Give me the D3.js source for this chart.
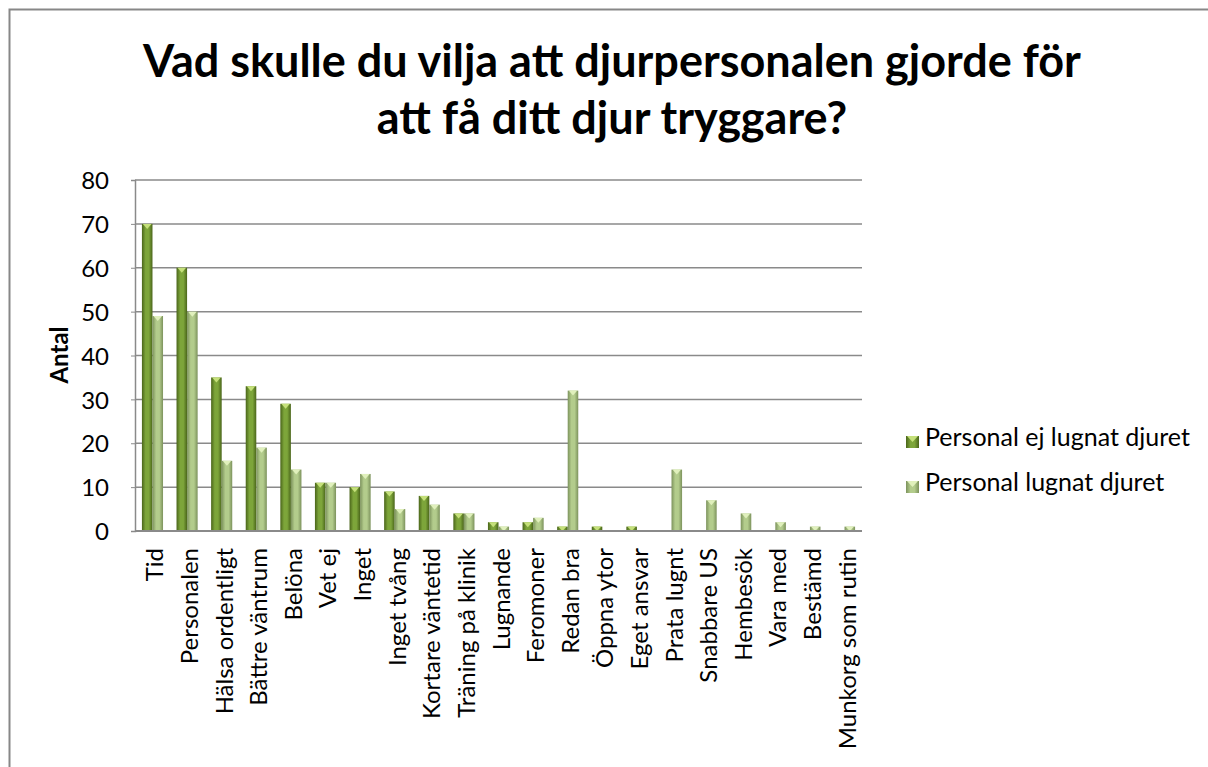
<!DOCTYPE html>
<html><head><meta charset="utf-8">
<script src="https://cdn.jsdelivr.net/npm/d3@7"></script>
<style>body{margin:0;background:#fff}svg{display:block}</style>
</head><body>
<svg id="c" width="1208" height="767"></svg>
<script>
const categories = ["Tid","Personalen","Hälsa ordentligt","Bättre väntrum","Belöna","Vet ej","Inget","Inget tvång","Kortare väntetid","Träning på klinik","Lugnande","Feromoner","Redan bra","Öppna ytor","Eget ansvar","Prata lugnt","Snabbare US","Hembesök","Vara med","Bestämd","Munkorg som rutin"];
const seriesNames = ["Personal ej lugnat djuret","Personal lugnat djuret"];
const ejLugnat = [70,60,35,33,29,11,10,9,8,4,2,2,1,1,1,0,0,0,0,0,0];
const lugnat   = [49,50,16,19,14,11,13,5,6,4,1,3,32,0,0,14,7,4,2,1,1];
const yTicks = [0,10,20,30,40,50,60,70,80];
const titleLines = ["Vad skulle du vilja att djurpersonalen gjorde för","att få ditt djur tryggare?"];

const svg = d3.select("#c");
const font = "Lato, 'Open Sans', sans-serif";
const defs = svg.append("defs");
function grad(id, edge, mid){
  const g = defs.append("linearGradient").attr("id",id).attr("x1","0").attr("x2","1").attr("y1","0").attr("y2","0");
  g.append("stop").attr("offset","0%").attr("stop-color",edge);
  g.append("stop").attr("offset","35%").attr("stop-color",mid);
  g.append("stop").attr("offset","65%").attr("stop-color",mid);
  g.append("stop").attr("offset","100%").attr("stop-color",edge);
}
grad("g0","#4a651a","#7da53a");
grad("g1","#7c925c","#b3cc8c");
const capColor = ["#c5e07a","#e0f0bc"];

// frame
svg.append("path").attr("d","M9.5,767 L9.5,9.5 L1208,9.5").attr("fill","none").attr("stroke","#878787").attr("stroke-width",2);

// title
svg.append("text").attr("x",612).attr("y",77).attr("text-anchor","middle")
  .style("font-family",font).style("font-weight","bold").style("font-size","45px").text(titleLines[0]);
svg.append("text").attr("x",612).attr("y",134).attr("text-anchor","middle")
  .style("font-family",font).style("font-weight","bold").style("font-size","45px").text(titleLines[1]);

const m = {l:135, r:862, t:180, b:531};
const x = d3.scaleBand().domain(categories).range([m.l,m.r]).paddingInner(0.39).paddingOuter(0.2);
const y = d3.scaleLinear().domain([0,80]).range([m.b,m.t]);
const xs = d3.scaleBand().domain([0,1]).range([0,x.bandwidth()]);

// gridlines
svg.append("g").selectAll("line").data(yTicks.slice(1)).join("line")
  .attr("x1",m.l).attr("x2",m.r).attr("y1",d=>y(d)).attr("y2",d=>y(d))
  .attr("stroke","#8a8a8a").attr("stroke-width",1.5);

// y axis
const ya = svg.append("g").attr("transform",`translate(${m.l},0)`)
  .call(d3.axisLeft(y).tickValues(yTicks).tickSize(4).tickPadding(22));
ya.select(".domain").attr("stroke","#8a8a8a").attr("stroke-width",1.5);
ya.selectAll(".tick line").attr("stroke","#8a8a8a");
ya.selectAll("text").style("font-family",font).style("font-size","24px").attr("fill","#000").attr("dy","0.36em");

svg.append("text").attr("transform","translate(68,355) rotate(-90)").attr("text-anchor","middle")
  .style("font-family",font).style("font-weight","bold").style("font-size","24px").text("Antal");

// bars
const data = [ejLugnat, lugnat];
data.forEach((vals, si) => {
  const g = svg.append("g");
  const bw = xs.bandwidth();
  const items = categories.map((c,i)=>({c, v: vals[i]})).filter(d=>d.v>0);
  g.selectAll("rect").data(items).join("rect")
    .attr("x", d=>x(d.c)+xs(si)).attr("width", bw)
    .attr("y", d=>y(d.v)).attr("height", d=>y(0)-y(d.v))
    .attr("fill", `url(#g${si})`);
  g.selectAll("path").data(items).join("path")
    .attr("d", d=>{
      const x0 = x(d.c)+xs(si), yt = y(d.v), h = Math.min(5, (y(0)-yt));
      return `M${x0+1},${yt} L${x0+bw-1},${yt} L${x0+bw/2},${yt+h} Z`;
    })
    .attr("fill", capColor[si]);
});

// x axis line
svg.append("line").attr("x1",m.l).attr("x2",m.r).attr("y1",m.b).attr("y2",m.b)
  .attr("stroke","#8a8a8a").attr("stroke-width",2);

// x labels
svg.append("g").selectAll("text").data(categories).join("text")
  .attr("transform", d=>`translate(${x(d)+x.bandwidth()/2+11},548) rotate(-90)`)
  .attr("text-anchor","end")
  .style("font-family",font).style("font-size","24px").text(d=>d);

// legend
const lg = svg.append("g");
seriesNames.forEach((n,i)=>{
  const yy = 446 + i*45;
  lg.append("rect").attr("x",906).attr("y",yy-10).attr("width",13).attr("height",12).attr("fill",`url(#g${i})`);
  lg.append("path").attr("d",`M907,${yy-10} L918,${yy-10} L912.5,${yy-4} Z`).attr("fill",capColor[i]);
  lg.append("text").attr("x",925).attr("y",yy).style("font-family",font).style("font-size","25px").text(n);
});
</script>
</body></html>
